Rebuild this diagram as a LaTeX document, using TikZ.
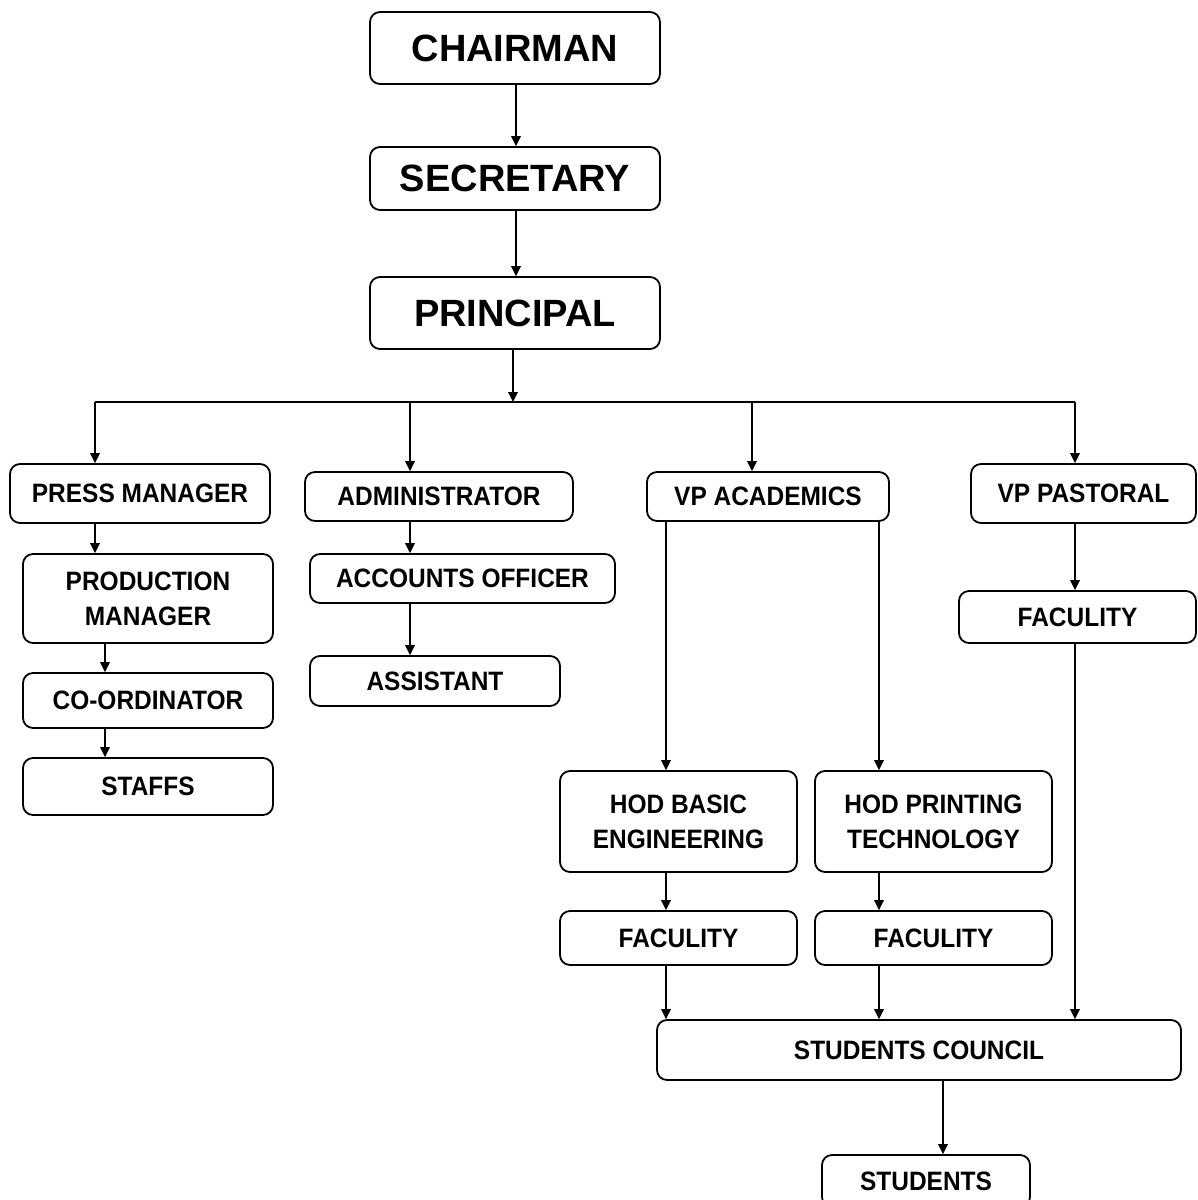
\documentclass[tikz,border=0pt]{standalone}
\usepackage{fontspec}
\usetikzlibrary{arrows.meta}
\newfontfamily\condf[FakeStretch=0.92]{Liberation Sans}
\newfontfamily\widef{Liberation Sans}
\begin{document}
\begin{tikzpicture}[x=0.5pt,y=-0.5pt,
  box/.style={draw=black, line width=0.9pt, rounded corners=5pt, fill=white, inner sep=0pt, align=center,
    font=\condf\bfseries\fontsize{13.3}{17.5}\selectfont},
  topbox/.style={box, font=\widef\bfseries\fontsize{19}{22}\selectfont},
  arr/.style={line width=0.75pt, -{Triangle[length=5pt,width=4.8pt]}},
  ln/.style={line width=0.75pt}]
\clip (0,0) rectangle (1198,1200);
\fill[white] (0,0) rectangle (1198,1200);
% top chain
\node[topbox, minimum width=145pt, minimum height=36pt] (chair) at (515,48) {CHAIRMAN};
\node[topbox, minimum width=145pt, minimum height=31.5pt] (sec) at (515,178.5) {SECRETARY};
\node[topbox, minimum width=145pt, minimum height=36pt] (prin) at (515,313) {PRINCIPAL};
% second level
\node[box, minimum width=130pt, minimum height=29.5pt] (press) at (140,493.5) {PRESS MANAGER};
\node[box, minimum width=134pt, minimum height=24.5pt] (admin) at (439,496.5) {ADMINISTRATOR};
\node[box, minimum width=121pt, minimum height=24.5pt] (vpac) at (768,496.5) {VP ACADEMICS};
\node[box, minimum width=112.5pt, minimum height=29.5pt] (vppas) at (1083.5,493.5) {VP PASTORAL};
% press column
\node[box, minimum width=125pt, minimum height=44.5pt] (prod) at (148,598.5) {PRODUCTION\\MANAGER};
\node[box, minimum width=125pt, minimum height=27.5pt] (coord) at (148,700.5) {CO-ORDINATOR};
\node[box, minimum width=125pt, minimum height=28.5pt] (staffs) at (148,786.5) {STAFFS};
% admin column
\node[box, minimum width=152.5pt, minimum height=24.5pt] (acc) at (462.5,578.5) {ACCOUNTS OFFICER};
\node[box, minimum width=125pt, minimum height=25pt] (asst) at (435,681) {ASSISTANT};
% pastoral
\node[box, minimum width=118.5pt, minimum height=26pt] (facp) at (1077.5,617) {FACULITY};
% academics
\node[box, minimum width=118.5pt, minimum height=50.5pt] (hodb) at (678.5,821.5) {HOD BASIC\\ENGINEERING};
\node[box, minimum width=118.5pt, minimum height=50.5pt] (hodp) at (933.5,821.5) {HOD PRINTING\\TECHNOLOGY};
\node[box, minimum width=118.5pt, minimum height=27pt] (facb) at (678.5,938) {FACULITY};
\node[box, minimum width=118.5pt, minimum height=27pt] (facq) at (933.5,938) {FACULITY};
% bottom
\node[box, minimum width=262pt, minimum height=30pt] (council) at (919,1050) {STUDENTS COUNCIL};
\node[box, minimum width=104pt, minimum height=26pt] (stud) at (926,1181) {STUDENTS};
% column coordinates
\coordinate (cA) at (95,0);
\coordinate (cB) at (105,0);
\coordinate (cC) at (410,0);
\coordinate (cD) at (666,0);
\coordinate (cE) at (879,0);
\coordinate (cF) at (1075,0);
\coordinate (cG) at (943,0);
\coordinate (cP) at (513,0);
\coordinate (cT) at (516,0);
% bus
\coordinate (b1) at (95,402);
\coordinate (b2) at (410,402);
\coordinate (b3) at (752,402);
\coordinate (b4) at (1075,402);
\coordinate (bp) at (513,402);
% connectors
\draw[arr] (chair.south -| cT) -- (sec.north -| cT);
\draw[arr] (sec.south -| cT) -- (prin.north -| cT);
\draw[arr] (prin.south -| cP) -- (bp);
\draw[ln] (b1) -- (b4);
\draw[arr] (b1) -- (press.north -| b1);
\draw[arr] (b2) -- (admin.north -| b2);
\draw[arr] (b3) -- (vpac.north -| b3);
\draw[arr] (b4) -- (vppas.north -| b4);
\draw[arr] (press.south -| cA) -- (prod.north -| cA);
\draw[arr] (prod.south -| cB) -- (coord.north -| cB);
\draw[arr] (coord.south -| cB) -- (staffs.north -| cB);
\draw[arr] (admin.south -| cC) -- (acc.north -| cC);
\draw[arr] (acc.south -| cC) -- (asst.north -| cC);
\draw[arr] (vppas.south -| cF) -- (facp.north -| cF);
\draw[arr] (vpac.south -| cD) -- (hodb.north -| cD);
\draw[arr] (vpac.south -| cE) -- (hodp.north -| cE);
\draw[arr] (hodb.south -| cD) -- (facb.north -| cD);
\draw[arr] (hodp.south -| cE) -- (facq.north -| cE);
\draw[arr] (facb.south -| cD) -- (council.north -| cD);
\draw[arr] (facq.south -| cE) -- (council.north -| cE);
\draw[arr] (facp.south -| cF) -- (council.north -| cF);
\draw[arr] (council.south -| cG) -- (stud.north -| cG);
\end{tikzpicture}
\end{document}
